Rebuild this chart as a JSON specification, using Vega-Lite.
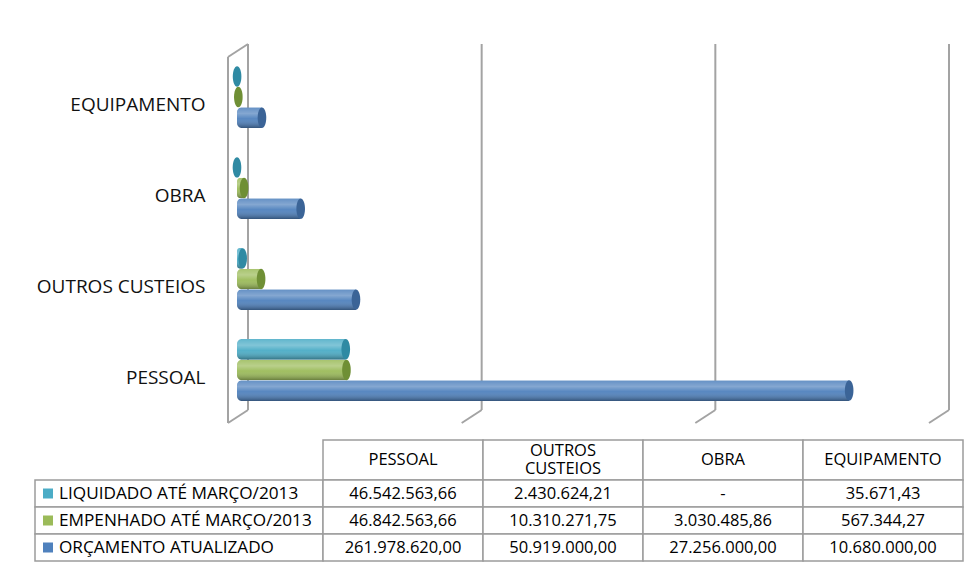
{
  "$schema": "https://vega.github.io/schema/vega-lite/v6.json",
  "padding": {"left": 34, "top": 43, "right": 0, "bottom": 0},
  "background": "white",
  "config": {
    "view": {"stroke": null},
    "font": "Open Sans",
    "locale": {"number": {"decimal": ",", "thousands": ".", "grouping": [3], "currency": ["R$ ", ""]}}
  },
  "datasets": {
    "orc": [
      {"cat": "PESSOAL", "serie": "LIQUIDADO ATÉ MARÇO/2013", "valor": 46542563.66},
      {"cat": "PESSOAL", "serie": "EMPENHADO ATÉ MARÇO/2013", "valor": 46842563.66},
      {"cat": "PESSOAL", "serie": "ORÇAMENTO ATUALIZADO", "valor": 261978620.00},
      {"cat": "OUTROS CUSTEIOS", "serie": "LIQUIDADO ATÉ MARÇO/2013", "valor": 2430624.21},
      {"cat": "OUTROS CUSTEIOS", "serie": "EMPENHADO ATÉ MARÇO/2013", "valor": 10310271.75},
      {"cat": "OUTROS CUSTEIOS", "serie": "ORÇAMENTO ATUALIZADO", "valor": 50919000.00},
      {"cat": "OBRA", "serie": "LIQUIDADO ATÉ MARÇO/2013", "valor": 0},
      {"cat": "OBRA", "serie": "EMPENHADO ATÉ MARÇO/2013", "valor": 3030485.86},
      {"cat": "OBRA", "serie": "ORÇAMENTO ATUALIZADO", "valor": 27256000.00},
      {"cat": "EQUIPAMENTO", "serie": "LIQUIDADO ATÉ MARÇO/2013", "valor": 35671.43},
      {"cat": "EQUIPAMENTO", "serie": "EMPENHADO ATÉ MARÇO/2013", "valor": 567344.27},
      {"cat": "EQUIPAMENTO", "serie": "ORÇAMENTO ATUALIZADO", "valor": 10680000.00}
    ],
    "grade": [{"g": 0}, {"g": 100000000}, {"g": 200000000}, {"g": 300000000}],
    "parede": [{"g": 0}]
  },
  "vconcat": [
    {
      "width": 701,
      "height": 379,
      "layer": [
        {
          "layer": [
            {
              "data": {"name": "grade"},
              "mark": {"type": "rule", "color": "#a3a3a3", "strokeWidth": 2, "xOffset": 11},
              "encoding": {
                "x": {"field": "g", "type": "quantitative", "scale": {"domain": [0, 300000000], "nice": false}, "axis": null},
                "y": {"datum": 100, "type": "quantitative", "scale": {"domain": [0, 100], "nice": false}, "axis": null},
                "y2": {"datum": 3.43}
              }
            },
            {
              "data": {"name": "grade"},
              "mark": {"type": "rule", "color": "#a3a3a3", "strokeWidth": 2, "xOffset": 11, "x2Offset": -9},
              "encoding": {
                "x": {"field": "g", "type": "quantitative"},
                "x2": {"field": "g"},
                "y": {"datum": 3.43, "type": "quantitative"},
                "y2": {"datum": 0}
              }
            },
            {
              "data": {"name": "parede"},
              "mark": {"type": "rule", "color": "#a3a3a3", "strokeWidth": 2, "xOffset": -9},
              "encoding": {
                "x": {"field": "g", "type": "quantitative"},
                "y": {"datum": 96.57, "type": "quantitative"},
                "y2": {"datum": 0}
              }
            },
            {
              "data": {"name": "parede"},
              "mark": {"type": "rule", "color": "#a3a3a3", "strokeWidth": 2, "xOffset": -9, "x2Offset": 11},
              "encoding": {
                "x": {"field": "g", "type": "quantitative"},
                "x2": {"field": "g"},
                "y": {"datum": 96.57, "type": "quantitative"},
                "y2": {"datum": 100}
              }
            }
          ]
        },
        {
          "data": {"name": "orc"},
          "encoding": {
            "y": {
              "field": "cat", "type": "nominal",
              "sort": ["EQUIPAMENTO", "OBRA", "OUTROS CUSTEIOS", "PESSOAL"],
              "scale": {"paddingInner": 0.32, "paddingOuter": 0.2425},
              "axis": {"orient": "left", "title": null, "ticks": false, "tickSize": 0, "domain": false, "labelPadding": 32, "labelFontSize": 19, "labelColor": "#111111", "labelOffset": 8, "labelFont": "Open Sans"}
            },
            "yOffset": {"field": "serie", "type": "nominal", "sort": ["LIQUIDADO ATÉ MARÇO/2013", "EMPENHADO ATÉ MARÇO/2013", "ORÇAMENTO ATUALIZADO"]},
            "x": {"field": "valor", "type": "quantitative"}
          },
          "layer": [
            {
              "mark": {"type": "bar", "cornerRadiusTopLeft": 5, "cornerRadiusBottomLeft": 5, "x2Offset": -4},
              "encoding": {
                "color": {
                  "field": "serie", "type": "nominal",
                  "scale": {"domain": ["LIQUIDADO ATÉ MARÇO/2013", "EMPENHADO ATÉ MARÇO/2013", "ORÇAMENTO ATUALIZADO"], "range": ["#4BACC6", "#9BBB59", "#4F81BD"]},
                  "legend": null
                }
              }
            },
            {
              "mark": {
                "type": "bar", "cornerRadiusTopLeft": 5, "cornerRadiusBottomLeft": 5, "x2Offset": -4,
                "color": {"gradient": "linear", "x1": 0, "y1": 0, "x2": 0, "y2": 1, "stops": [
                  {"offset": 0, "color": "rgba(255,255,255,0.12)"},
                  {"offset": 0.3, "color": "rgba(255,255,255,0.3)"},
                  {"offset": 0.55, "color": "rgba(255,255,255,0.05)"},
                  {"offset": 1, "color": "rgba(0,0,0,0.35)"}
                ]}
              }
            },
            {
              "mark": {"type": "point", "shape": "M0,-1A0.42,1 0 1 1 0,1A0.42,1 0 1 1 0,-1Z", "size": 420, "filled": true, "opacity": 1, "strokeWidth": 0},
              "encoding": {
                "fill": {
                  "field": "serie", "type": "nominal",
                  "scale": {"domain": ["LIQUIDADO ATÉ MARÇO/2013", "EMPENHADO ATÉ MARÇO/2013", "ORÇAMENTO ATUALIZADO"], "range": ["#2F8AA3", "#6F8F35", "#3B6497"]},
                  "legend": null
                }
              }
            }
          ]
        }
      ],
      "resolve": {"scale": {"y": "independent"}}
    },
    {
      "width": 726,
      "height": 121,
      "layer": [
        {
          "data": {"name": "orc"},
          "transform": [{"filter": "datum.cat === 'PESSOAL'"}],
          "encoding": {
            "x": {"datum": "legenda", "type": "nominal", "scale": {"domain": ["legenda"], "range": [-202, 86], "paddingInner": 0, "paddingOuter": 0}, "axis": null},
            "y": {"field": "serie", "type": "nominal", "scale": {"domain": ["LIQUIDADO ATÉ MARÇO/2013", "EMPENHADO ATÉ MARÇO/2013", "ORÇAMENTO ATUALIZADO"], "range": [40, 121], "paddingInner": 0, "paddingOuter": 0}, "axis": null}
          },
          "layer": [
            {"mark": {"type": "rect", "fill": "white", "stroke": "#9c9c9c", "strokeWidth": 1.5}},
            {
              "mark": {"type": "point", "shape": "square", "size": 100, "filled": true, "opacity": 1, "xOffset": -131},
              "encoding": {
                "color": {"field": "serie", "type": "nominal", "scale": {"domain": ["LIQUIDADO ATÉ MARÇO/2013", "EMPENHADO ATÉ MARÇO/2013", "ORÇAMENTO ATUALIZADO"], "range": ["#4BACC6", "#9BBB59", "#4F81BD"]}, "legend": null}
              }
            },
            {
              "mark": {"type": "text", "align": "left", "baseline": "middle", "xOffset": -120, "fontSize": 17.2, "font": "Open Sans", "color": "#000000"},
              "encoding": {"text": {"field": "serie", "type": "nominal"}}
            }
          ]
        },
        {
          "data": {"name": "orc"},
          "transform": [{"filter": "datum.serie === 'ORÇAMENTO ATUALIZADO'"}],
          "encoding": {
            "x": {"field": "cat", "type": "nominal", "scale": {"domain": ["PESSOAL", "OUTROS CUSTEIOS", "OBRA", "EQUIPAMENTO"], "range": [86, 726], "paddingInner": 0, "paddingOuter": 0}, "axis": null},
            "y": {"datum": "cabecalho", "type": "nominal", "scale": {"domain": ["cabecalho"], "range": [0, 40], "paddingInner": 0, "paddingOuter": 0}, "axis": null}
          },
          "layer": [
            {"mark": {"type": "rect", "fill": "white", "stroke": "#9c9c9c", "strokeWidth": 1.5}},
            {
              "transform": [{"filter": "datum.cat !== 'OUTROS CUSTEIOS'"}],
              "mark": {"type": "text", "align": "center", "baseline": "middle", "fontSize": 16.5, "font": "Open Sans", "color": "#000000"},
              "encoding": {"text": {"field": "cat", "type": "nominal"}}
            },
            {
              "transform": [{"filter": "datum.cat === 'OUTROS CUSTEIOS'"}],
              "mark": {"type": "text", "align": "center", "baseline": "middle", "fontSize": 16.5, "font": "Open Sans", "color": "#000000", "lineBreak": " ", "lineHeight": 18, "dy": -9},
              "encoding": {"text": {"field": "cat", "type": "nominal"}}
            }
          ]
        },
        {
          "data": {"name": "orc"},
          "encoding": {
            "x": {"field": "cat", "type": "nominal", "scale": {"domain": ["PESSOAL", "OUTROS CUSTEIOS", "OBRA", "EQUIPAMENTO"], "range": [86, 726], "paddingInner": 0, "paddingOuter": 0}, "axis": null},
            "y": {"field": "serie", "type": "nominal", "scale": {"domain": ["LIQUIDADO ATÉ MARÇO/2013", "EMPENHADO ATÉ MARÇO/2013", "ORÇAMENTO ATUALIZADO"], "range": [40, 121], "paddingInner": 0, "paddingOuter": 0}, "axis": null}
          },
          "layer": [
            {"mark": {"type": "rect", "fill": "white", "stroke": "#9c9c9c", "strokeWidth": 1.5}},
            {
              "mark": {"type": "text", "align": "center", "baseline": "middle", "fontSize": 16.5, "font": "Open Sans", "color": "#000000"},
              "encoding": {
                "text": {"condition": {"test": "datum.valor === 0", "value": "-"}, "field": "valor", "type": "quantitative", "format": ",.2f"}
              }
            }
          ]
        }
      ],
      "resolve": {"scale": {"x": "independent", "y": "independent", "color": "independent"}}
    }
  ],
  "spacing": 15
}
